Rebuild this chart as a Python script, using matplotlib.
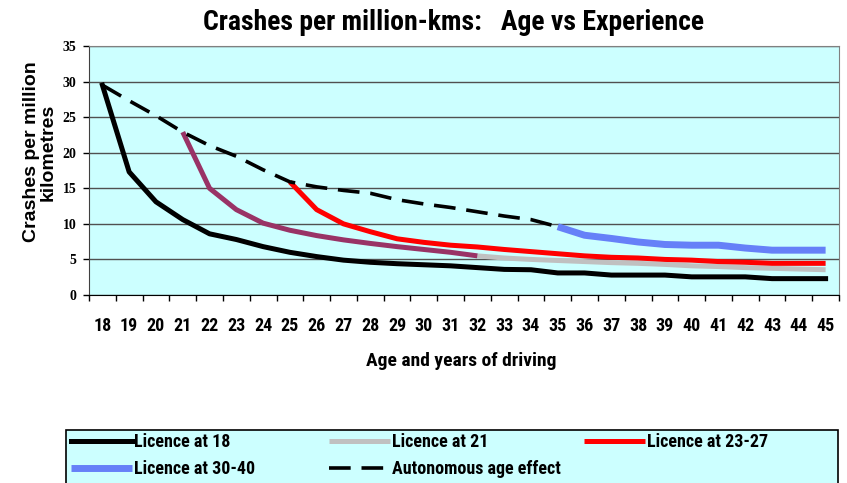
import matplotlib
matplotlib.use('Agg')
import matplotlib.pyplot as plt
from matplotlib.patches import Rectangle

plt.rcParams['font.family'] = ['Liberation Sans Narrow', 'DejaVu Sans Condensed', 'Roboto Condensed',
                               'Open Sans Condensed', 'Liberation Sans', 'DejaVu Sans']
plt.rcParams['font.weight'] = 'bold'

# Values (crashes per million km)
ages = list(range(18, 46))
lic18 = [29.5, 17.3, 13.1, 10.6, 8.6, 7.8, 6.8, 6.0, 5.4, 4.9, 4.6, 4.4, 4.25, 4.1,
         3.85, 3.6, 3.55, 3.1, 3.1, 2.8, 2.8, 2.8, 2.55, 2.55, 2.55, 2.3, 2.3, 2.3]

ages21a = list(range(21, 33))
lic21a = [22.9, 15.0, 12.0, 10.1, 9.1, 8.35, 7.75, 7.25, 6.8, 6.4, 6.0, 5.5]

ages21b = list(range(32, 46))
lic21b = [5.5, 5.2, 5.0, 4.85, 4.7, 4.55, 4.45, 4.3, 4.1, 4.0, 3.85, 3.75, 3.65, 3.55]

ages2327 = list(range(25, 46))
lic2327 = [15.9, 12.0, 10.0, 8.9, 7.9, 7.4, 7.0, 6.75, 6.4, 6.1, 5.8, 5.5, 5.3, 5.2,
           5.0, 4.9, 4.7, 4.6, 4.45, 4.45, 4.45]

ages3040 = list(range(35, 46))
lic3040 = [9.6, 8.4, 7.95, 7.45, 7.1, 7.0, 7.0, 6.6, 6.3, 6.3, 6.3]

ages_auto = list(range(18, 36))
auto = [29.5, 27.3, 25.2, 22.9, 21.0, 19.5, 17.6, 15.9, 15.2, 14.7, 14.3, 13.4,
        12.8, 12.3, 11.7, 11.1, 10.6, 9.6]

fig = plt.figure(figsize=(8.47, 4.83), dpi=100)
ax = fig.add_axes([89/847, 1-295/483, 750/847, 249/483])
ax.set_facecolor('#CCFFFF')

l21, = ax.plot(ages21b, lic21b, color='#C0C0C0', lw=3.6, solid_capstyle='butt', label='Licence at 21')
ax.plot(ages21a, lic21a, color='#993366', lw=3.6, solid_capstyle='butt')
l2327, = ax.plot(ages2327, lic2327, color='#FF0000', lw=3.6, solid_capstyle='butt', label='Licence at 23-27')
l3040, = ax.plot(ages3040, lic3040, color='#6680F8', lw=5, solid_capstyle='butt', label='Licence at 30-40')
lauto, = ax.plot(ages_auto, auto, color='black', lw=2.6, dashes=(6, 3), label='Autonomous age effect')
l18, = ax.plot(ages, lic18, color='black', lw=3.6, solid_joinstyle='round', label='Licence at 18')

ax.set_xlim(17.5, 45.5)
ax.set_ylim(0, 35)

# category axis: tick marks between categories, labels at centres
ax.set_xticks([a - 0.5 for a in ages] + [45.5])
ax.set_xticklabels([])
ax.set_xticks(ages, minor=True)
ax.set_xticklabels([str(a) for a in ages], minor=True)
ax.tick_params(axis='x', which='major', direction='out', length=4, width=1)
ax.tick_params(axis='x', which='minor', length=0, pad=16, labelsize=13)

ax.set_yticks(range(0, 36, 5))
ax.tick_params(axis='y', direction='out', length=4, width=1, pad=5)
for t in ax.get_yticklabels():
    t.set_fontfamily(['Liberation Serif', 'DejaVu Serif'])
    t.set_fontsize(10)
    t.set_fontweight('bold')

ax.yaxis.grid(True, color='#505050', lw=1)
ax.set_axisbelow(True)
for s in ['top', 'right']:
    ax.spines[s].set_color('#808080')
ax.spines['left'].set_color('#404040')
ax.spines['bottom'].set_color('black')

fig.text(453/847, 1-23/483, 'Crashes per million-kms:   Age vs Experience',
         ha='center', va='center', fontsize=20, fontweight='bold')
fig.text(461/847, 1-361/483, 'Age and years of driving',
         ha='center', va='center', fontsize=14, fontweight='bold')
fig.text(40/847, 1-152/483, 'Crashes per million\nkilometres', rotation=90,
         ha='center', va='center', fontsize=14, fontweight='bold', linespacing=0.95,
         family=['Liberation Sans', 'DejaVu Sans'])

# legend box (bottom runs off the figure like the original) with three equal columns
fig.patches.append(Rectangle((66/847, -0.05), 772/847, 0.05 + 1-430/483,
                             transform=fig.transFigure, facecolor='#CCFFFF',
                             edgecolor='black', lw=1.2, zorder=0))
columns = [([l18, l3040], ['Licence at 18', 'Licence at 30-40'], 71),
           ([l21, lauto], ['Licence at 21', 'Autonomous age effect'], 329),
           ([l2327], ['Licence at 23-27'], 584)]
for handles, labels, x0 in columns:
    fig.legend(handles, labels, loc='upper left', bbox_to_anchor=(x0/847, 1-433/483),
               borderaxespad=0, borderpad=0, frameon=False,
               prop={'size': 13, 'weight': 'bold'},
               handlelength=3.4, handletextpad=0.1, labelspacing=0.5)

fig.savefig('out.png', dpi=100)
